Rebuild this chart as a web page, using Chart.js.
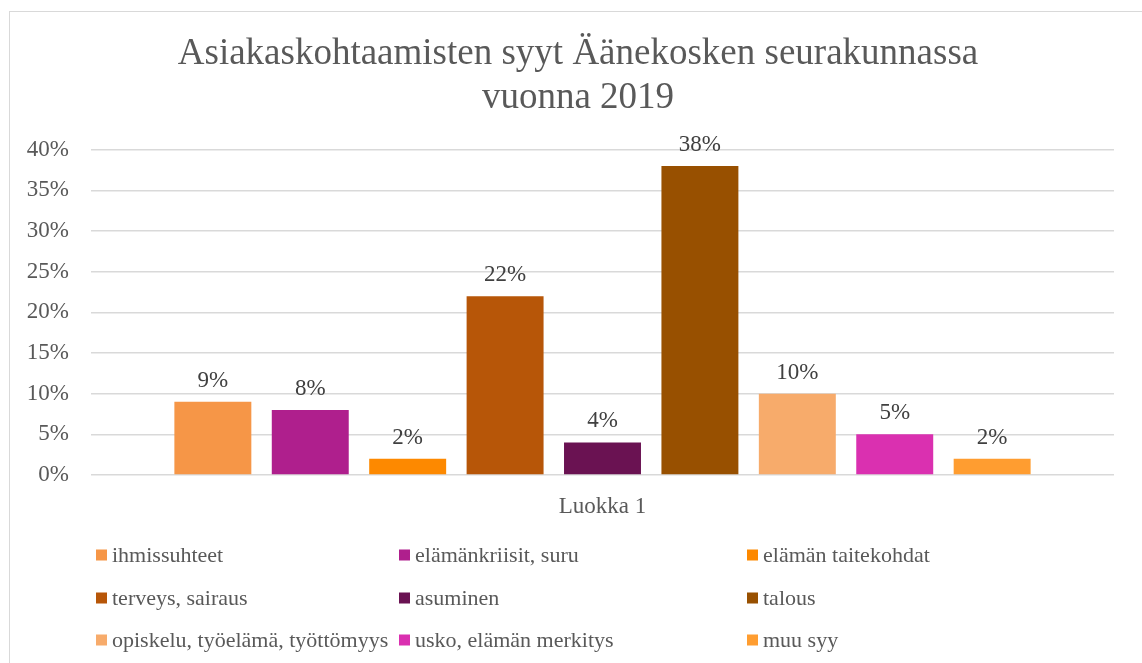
<!DOCTYPE html>
<html>
<head>
<meta charset="utf-8">
<script src="https://cdn.jsdelivr.net/npm/chart.js@4"></script>
<style>
    html, body { margin: 0; padding: 0; background: #fff; overflow: hidden; }
    #frame {
        position: absolute; left: 9px; top: 11px; width: 1200px; height: 700px;
        border: 1px solid #d9d9d9; box-sizing: border-box;
    }
    #wrap { position: absolute; left: 0; top: 0; width: 1142px; height: 663px; }
</style>
</head>
<body>
<div id="frame"></div>
<div id="wrap"><canvas id="chart" width="1142" height="663"></canvas></div>
<script>
const titleLines = ['Asiakaskohtaamisten syyt Äänekosken seurakunnassa', 'vuonna 2019'];
const categories = ['Luokka 1'];
const seriesNames = [
    'ihmissuhteet', 'elämänkriisit, suru', 'elämän taitekohdat',
    'terveys, sairaus', 'asuminen', 'talous',
    'opiskelu, työelämä, työttömyys', 'usko, elämän merkitys', 'muu syy'
];
const seriesValues = [9, 8, 2, 22, 4, 38, 10, 5, 2];
const seriesColors = [
    '#F69647', '#AF1F8D', '#FD8900',
    '#B75608', '#6A1252', '#985000',
    '#F7AB6B', '#DA30B0', '#FF9D30'
];
const yTicks = [0, 5, 10, 15, 20, 25, 30, 35, 40];

const serif = "'Liberation Serif', 'Times New Roman', serif";
const grey = '#595959';

// value labels above each bar
const barLabels = {
    id: 'barLabels',
    afterDatasetsDraw(chart) {
        const ctx = chart.ctx;
        ctx.save();
        ctx.font = '23px ' + serif;
        ctx.fillStyle = '#404040';
        ctx.textAlign = 'center';
        ctx.textBaseline = 'alphabetic';
        chart.data.datasets.forEach((ds, i) => {
            const bar = chart.getDatasetMeta(i).data[0];
            ctx.fillText(ds.data[0] + '%', bar.x, bar.y - 15);
        });
        ctx.restore();
    }
};

// legend in three columns, like the office chart
const gridLegend = {
    id: 'gridLegend',
    afterDraw(chart) {
        const ctx = chart.ctx;
        const area = chart.chartArea;
        const colX = [area.left + 5, area.left + 308, area.left + 656];
        const rowY = [555, 598, 640];
        ctx.save();
        ctx.font = '22px ' + serif;
        ctx.textBaseline = 'middle';
        ctx.textAlign = 'left';
        chart.data.datasets.forEach((ds, i) => {
            const x = colX[i % 3];
            const y = rowY[Math.floor(i / 3)];
            ctx.fillStyle = ds.backgroundColor;
            ctx.fillRect(x, y - 5.5, 11, 11);
            ctx.fillStyle = grey;
            ctx.fillText(ds.label, x + 16, y + 1);
        });
        ctx.restore();
    }
};

const datasets = seriesNames.map((name, i) => ({
    label: name,
    data: [seriesValues[i]],
    backgroundColor: seriesColors[i],
    categoryPercentage: 0.857,
    barPercentage: 0.79
}));

const config = {
    type: 'bar',
    data: { labels: categories, datasets: datasets },
    options: {
        responsive: false,
        animation: false,
        layout: { padding: { left: 14, right: 0, top: 10, bottom: 138 } },
        plugins: {
            legend: { display: false },
            tooltip: { enabled: false },
            title: {
                display: true,
                text: titleLines,
                color: grey,
                font: { family: serif, size: 37, weight: 'normal', lineHeight: 1.2 },
                padding: { top: 22, bottom: 29 }
            }
        },
        scales: {
            x: {
                grid: { display: false, drawTicks: false },
                border: { display: false },
                ticks: { color: grey, font: { family: serif, size: 23 }, padding: 18 },
                afterFit(scale) { scale.height = 50; }
            },
            y: {
                min: 0,
                max: 40,
                afterBuildTicks(scale) { scale.ticks = yTicks.map(v => ({ value: v })); },
                grid: { color: '#d9d9d9', lineWidth: 1.5, drawTicks: false },
                border: { display: false },
                ticks: {
                    color: grey,
                    font: { family: serif, size: 23 },
                    padding: 22,
                    callback: v => v + '%'
                },
                afterFit(scale) { scale.width = 77; }
            },
            // empty right axis, only keeps the plot clear of the right edge
            yRight: {
                position: 'right',
                grid: { display: false, drawTicks: false },
                border: { display: false },
                ticks: { display: false },
                afterFit(scale) { scale.width = 28; }
            }
        }
    },
    plugins: [barLabels, gridLegend]
};

const ctx = document.getElementById('chart').getContext('2d');
const chart = new Chart(ctx, config);
</script>
</body>
</html>
